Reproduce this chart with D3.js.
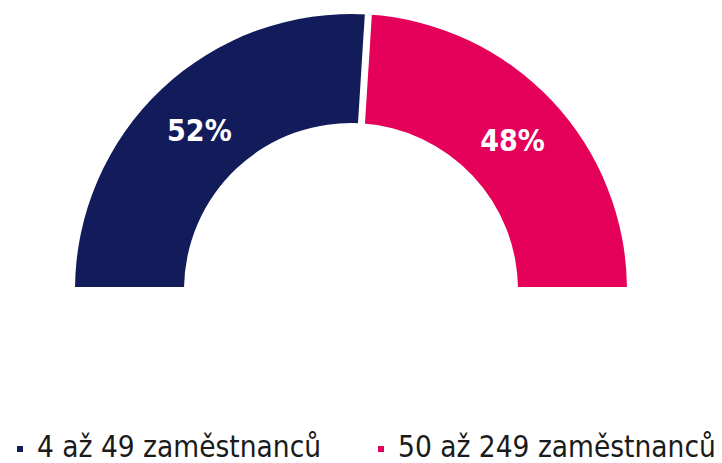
<!DOCTYPE html>
<html>
<head>
<meta charset="utf-8">
<script src="https://cdn.jsdelivr.net/npm/d3@7"></script>
<style>
  body { margin: 0; background: #fff; }
  svg text { font-family: "DejaVu Sans Condensed", "DejaVu Sans", sans-serif; font-stretch: condensed; }
</style>
</head>
<body>
<div id="chart"></div>
<script>
var width = 722,
    height = 463;

// data
var categories = ["4 až 49 zaměstnanců", "50 až 249 zaměstnanců"];
var values = [52, 48];
var colors = ["#121c5a", "#e5005a"];

var svg = d3.select("#chart")
    .append("svg")
    .attr("width", width)
    .attr("height", height);

var cx = 351, cy = 290,
    outerR = 276, innerR = 167,
    gap = 7, baseY = 287;

// the half ring is cut flat a little above its centre
svg.append("clipPath")
    .attr("id", "cut")
    .append("rect")
    .attr("x", 0)
    .attr("y", 0)
    .attr("width", width)
    .attr("height", baseY);

var pie = d3.pie()
    .sort(null)
    .startAngle(-Math.PI / 2)
    .endAngle(Math.PI / 2);

var arc = d3.arc()
    .innerRadius(innerR)
    .outerRadius(outerR);

var g = svg.append("g")
    .attr("clip-path", "url(#cut)")
    .append("g")
    .attr("transform", "translate(" + cx + "," + cy + ")");

var arcs = pie(values);

g.selectAll(".slice")
    .data(arcs)
    .enter().append("path")
    .attr("class", "slice")
    .attr("d", arc)
    .attr("fill", function(d, i) { return colors[i]; });

// white separators between slices
g.selectAll(".sep")
    .data(arcs.slice(1))
    .enter().append("line")
    .attr("class", "sep")
    .attr("x1", function(d) { return (innerR - 2) * Math.sin(d.startAngle); })
    .attr("y1", function(d) { return -(innerR - 2) * Math.cos(d.startAngle); })
    .attr("x2", function(d) { return (outerR + 2) * Math.sin(d.startAngle); })
    .attr("y2", function(d) { return -(outerR + 2) * Math.cos(d.startAngle); })
    .attr("stroke", "#fff")
    .attr("stroke-width", gap);

svg.selectAll(".label")
    .data(arcs)
    .enter().append("text")
    .attr("class", "label")
    .attr("transform", function(d) {
        var c = arc.centroid(d);
        return "translate(" + (cx + c[0]) + "," + (cy + c[1]) + ")";
    })
    .attr("text-anchor", "middle")
    .attr("dy", "0.42em")
    .attr("fill", "#fff")
    .attr("font-weight", "bold")
    .attr("font-size", 30)
    .text(function(d) { return d.data + "%"; });

// legend
var legendX = [17, 378];

var legend = svg.selectAll(".legend")
    .data(categories)
    .enter().append("g")
    .attr("class", "legend")
    .attr("transform", function(d, i) { return "translate(" + legendX[i] + ",446)"; });

legend.append("rect")
    .attr("width", 6)
    .attr("height", 6)
    .attr("fill", function(d, i) { return colors[i]; });

legend.append("text")
    .attr("x", 20)
    .attr("y", 11)
    .attr("font-size", 29.5)
    .attr("fill", "#1a1a1a")
    .text(function(d) { return d; });
</script>
</body>
</html>
